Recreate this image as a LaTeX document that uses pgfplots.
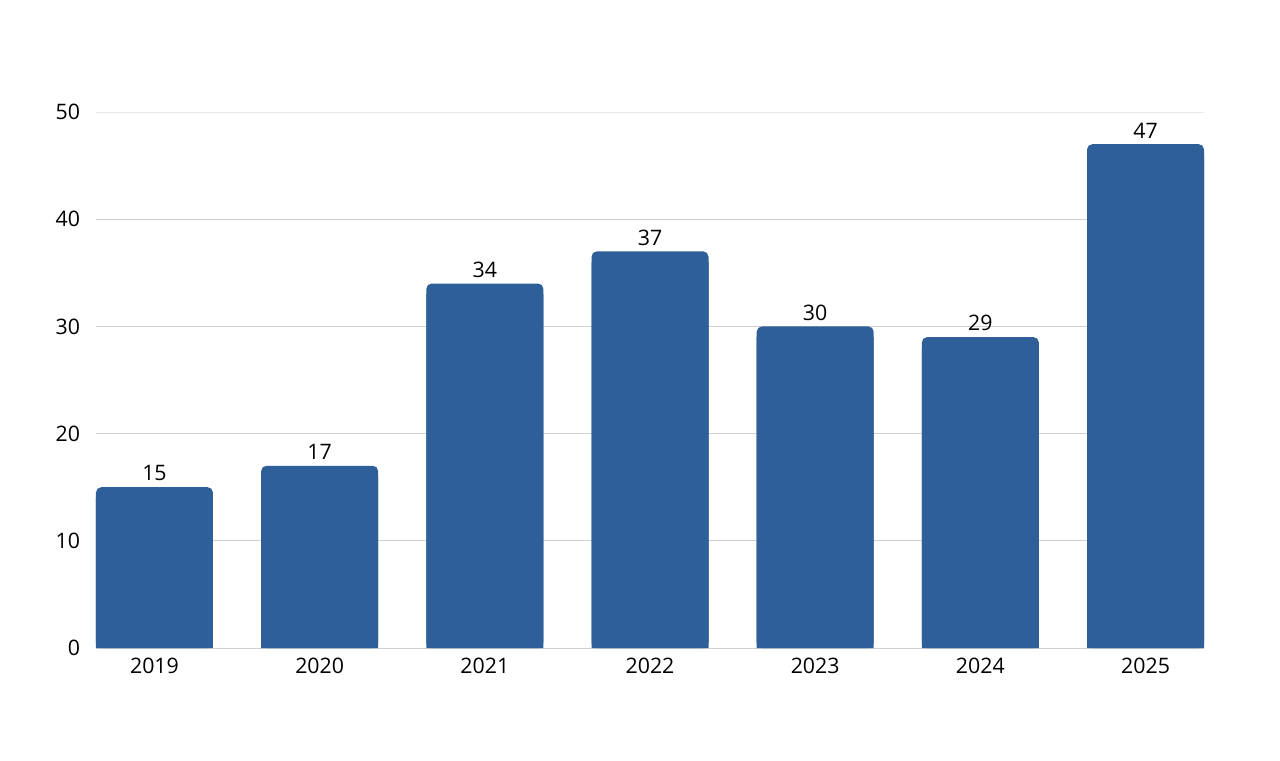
\documentclass[border=0pt]{standalone}
\usepackage{fontspec}
\setmainfont{Open Sans}
\usepackage{pgfplots}
\pgfplotsset{compat=1.18}
\definecolor{barblue}{HTML}{2E5F98}
\definecolor{gridgray}{HTML}{D0D0D0}
\definecolor{topgray}{HTML}{E8E8E8}
\begin{document}
\begin{tikzpicture}[x=1pt,y=1pt]
\useasboundingbox (-72,-84) rectangle (888,486);
\begin{axis}[
  at={(0,0)}, anchor=south west,
  scale only axis, width=831pt, height=402pt,
  xmin=-0.354, xmax=6.354, ymin=0, ymax=50,
  axis line style={draw=none},
  xtick={0,1,2,3,4,5,6},
  xticklabels={2019,2020,2021,2022,2023,2024,2025},
  ytick={0,10,20,30,40},
  extra y ticks={50},
  extra y tick style={grid style={topgray, line width=0.75pt}},
  major tick length=0pt,
  ymajorgrids, grid style={gridgray, line width=0.75pt},
  tick label style={font=\fontsize{16}{19}\selectfont},
  /pgf/number format/assume math mode=true,
  xticklabel style={yshift=-4pt},
  yticklabel style={xshift=-8.5pt},
  ybar, bar width=87.75pt, bar shift=0pt,
  clip=false,
  nodes near coords style={font=\fontsize{16}{19}\selectfont, black, yshift=1pt},
]
\addplot[fill=barblue, draw=none, rounded corners=4pt,
  nodes near coords] coordinates {(0,15) (1,17) (2,34) (3,37) (4,30) (5,29) (6,47)};
\addplot[fill=barblue, draw=none, forget plot, y filter/.expression={y-1}]
  coordinates {(0,15) (1,17) (2,34) (3,37) (4,30) (5,29) (6,47)};
\end{axis}
\end{tikzpicture}
\end{document}
